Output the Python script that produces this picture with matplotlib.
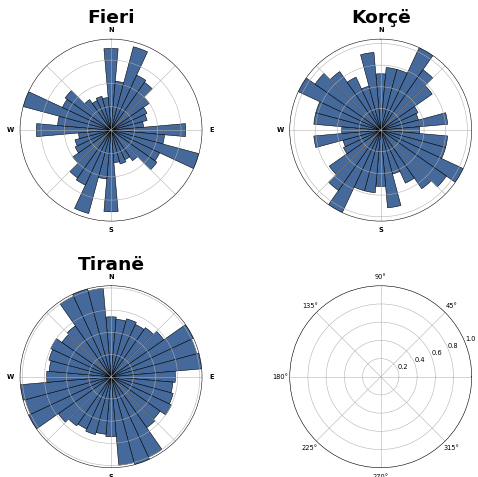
import numpy as np
import matplotlib
matplotlib.use("Agg")
import matplotlib.pyplot as plt

# Rose diagrams of strike directions, 10-degree bins. The data are axial,
# so the half circle (0-170 deg) is mirrored onto the opposite half.
bin_centres_half = np.arange(0, 180, 10)

fieri_half = [35, 21, 37, 26, 25, 20, 17, 16, 14, 32, 23, 39, 23, 24, 16, 14, 15, 14]
korce_half = [26, 29, 29, 42, 34, 29, 19, 18, 31, 18, 31, 31, 42, 37, 33, 27, 21, 36]
tirane_half = [27, 26, 27, 26, 27, 29, 41, 40, 41, 29, 28, 29, 30, 27, 28, 40, 41, 40]

stations = ["Fieri", "Korçë", "Tiranë"]
station_counts = [fieri_half, korce_half, tirane_half]
radial_ticks = [[10, 20, 30], [10, 20, 30, 40], [10, 20, 30, 40]]

compass_labels = ["N", "", "E", "", "S", "", "W", ""]
compass_angles = np.arange(0, 360, 45)

bar_colour = "#44699a"

fig = plt.figure(figsize=(10, 9.98), dpi=47.8)

size_w, size_h = 0.381, 0.3815
positions = [
    (0.0418, 0.5364),
    (0.6060, 0.5364),
    (0.0418, 0.0194),
    (0.6060, 0.0194),
]

for pos, name, half, rt in zip(positions[:3], stations, station_counts, radial_ticks):
    ax = fig.add_axes([pos[0], pos[1], size_w, size_h], projection="polar")
    counts = np.concatenate([half, half])
    centres = np.deg2rad(np.concatenate([bin_centres_half, bin_centres_half + 180]))
    ax.bar(centres, counts, width=np.deg2rad(10), bottom=0.0,
           color=bar_colour, edgecolor="black", linewidth=0.8)
    ax.set_theta_zero_location("N")
    ax.set_theta_direction(-1)
    ax.set_thetagrids(compass_angles, labels=compass_labels, fontweight="bold")
    ax.set_rgrids(rt, labels=[""] * len(rt))
    ax.set_ylim(0, max(counts))
    ax.set_title(name, fontsize=28, fontweight="bold")

# Fourth panel left empty with the default polar layout
ax_empty = fig.add_axes([positions[3][0], positions[3][1], size_w, size_h],
                        projection="polar")

fig.savefig("out.png", dpi=47.8)
